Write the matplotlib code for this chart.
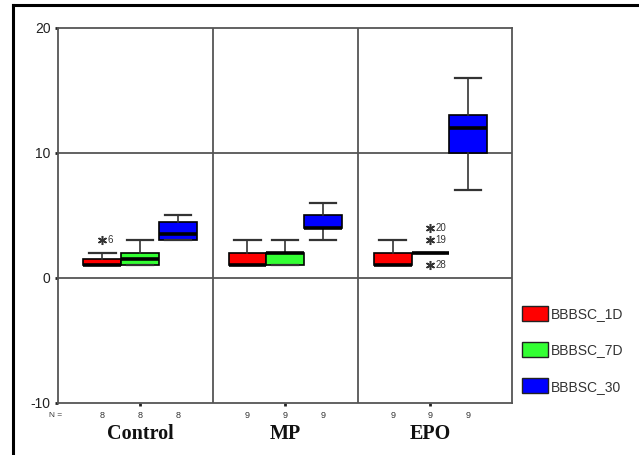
import matplotlib

matplotlib.use("Agg")
import matplotlib.pyplot as plt
from matplotlib.lines import Line2D
from matplotlib.patches import Patch

# categories and series
groups = ["Control", "MP", "EPO"]
series = ["BBBSC_1D", "BBBSC_7D", "BBBSC_30"]
series_colors = ["#ff0000", "#33ff33", "#0000ff"]
n_counts = [[8, 8, 8], [9, 9, 9], [9, 9, 9]]

# box statistics per series, one value per group
q1_1d = [1, 1, 1]
med_1d = [1, 1, 1]
q3_1d = [1.5, 2, 2]
lo_1d = [1, 1, 1]
hi_1d = [2, 3, 3]

q1_7d = [1, 1, 2]
med_7d = [1.5, 2, 2]
q3_7d = [2, 2, 2]
lo_7d = [1, 1, 2]
hi_7d = [3, 3, 2]

q1_30 = [3, 4, 10]
med_30 = [3.5, 4, 12]
q3_30 = [4.5, 5, 13]
lo_30 = [3, 3, 7]
hi_30 = [5, 6, 16]

# outliers: (series index, group index, value, case label)
outlier_series = [0, 1, 1, 1]
outlier_groups = [0, 2, 2, 2]
outlier_values = [3, 4, 3, 1]
outlier_labels = ["6", "20", "19", "28"]

y_ticks = [-10, 0, 10, 20]

stats_by_series = [
    (q1_1d, med_1d, q3_1d, lo_1d, hi_1d),
    (q1_7d, med_7d, q3_7d, lo_7d, hi_7d),
    (q1_30, med_30, q3_30, lo_30, hi_30),
]

fig = plt.figure(figsize=(6.39, 4.55), dpi=100)
ax = fig.add_axes([0.0908, 0.1143, 0.710, 0.8242])

width = 0.26
offsets = [-width, 0.0, width]
grid_color = "#555555"

for s_idx, (q1, med, q3, lo, hi) in enumerate(stats_by_series):
    stats = []
    for g_idx in range(len(groups)):
        stats.append(
            {
                "q1": q1[g_idx],
                "med": med[g_idx],
                "q3": q3[g_idx],
                "whislo": lo[g_idx],
                "whishi": hi[g_idx],
                "fliers": [],
            }
        )
    positions = [g + offsets[s_idx] for g in range(len(groups))]
    ax.bxp(
        stats,
        positions=positions,
        widths=width,
        capwidths=width * 0.7,
        patch_artist=True,
        showfliers=False,
        boxprops={"facecolor": series_colors[s_idx], "edgecolor": "black", "linewidth": 1.2},
        medianprops={"color": "black", "linewidth": 2.6, "solid_capstyle": "butt"},
        whiskerprops={"color": "#333333", "linewidth": 1.2},
        capprops={"color": "#333333", "linewidth": 1.6},
        zorder=3,
    )

for s_idx, g_idx, val, label in zip(outlier_series, outlier_groups, outlier_values, outlier_labels):
    x = g_idx + offsets[s_idx]
    ax.plot(x, val, marker=(6, 2, 0), color="#333333", markersize=6.5, markeredgewidth=1.1, zorder=4)
    ax.text(x + 0.035, val, label, fontsize=7, color="#333333", va="center", ha="left",
            family="Liberation Sans")

ax.set_xlim(-0.565, 2.56)
ax.set_ylim(-10, 20)

for y in [0, 10]:
    ax.axhline(y, color=grid_color, linewidth=1.3, zorder=1)
for x in [0.5, 1.5]:
    ax.axvline(x, color=grid_color, linewidth=1.3, zorder=1)

for spine in ax.spines.values():
    spine.set_color(grid_color)
    spine.set_linewidth(1.3)

ax.set_yticks(y_ticks)
ax.set_yticklabels([str(t) for t in y_ticks], fontsize=10, color="#222222", family="Liberation Sans")
ax.set_xticks(range(len(groups)))
ax.set_xticklabels([])
ax.tick_params(axis="both", length=2.5, width=2, color="#222222", pad=3)

# N counts under each box
ax.text(-0.58, -11.0, "N =", fontsize=6, color="#333333", ha="center", va="center",
        family="Liberation Sans")
for g_idx in range(len(groups)):
    for s_idx in range(len(series)):
        ax.text(g_idx + offsets[s_idx], -11.0, str(n_counts[g_idx][s_idx]), fontsize=6.5,
                color="#333333", ha="center", va="center", family="Liberation Sans")
    ax.text(g_idx, -12.5, groups[g_idx], fontsize=14.5, fontweight="bold", ha="center", va="center",
            family="Liberation Serif", color="#111111")

handles = [Patch(facecolor=c, edgecolor="#222222", linewidth=1.0) for c in series_colors]
fig.legend(
    handles,
    series,
    loc="upper left",
    bbox_to_anchor=(0.817, 0.327),
    frameon=False,
    borderpad=0,
    borderaxespad=0,
    handlelength=1.87,
    handleheight=1.3,
    handletextpad=0.2,
    labelspacing=1.5,
    prop={"family": "Liberation Sans", "size": 10},
    labelcolor="#333333",
)

# outer frame, only left and top edges visible
fig.add_artist(Line2D([13 / 639, 13 / 639], [0, 1 - 5 / 455], color="black", linewidth=2.2,
                      transform=fig.transFigure))
fig.add_artist(Line2D([13 / 639, 1], [1 - 5 / 455, 1 - 5 / 455], color="black", linewidth=2.2,
                      transform=fig.transFigure))

fig.savefig("out.png", dpi=100)
